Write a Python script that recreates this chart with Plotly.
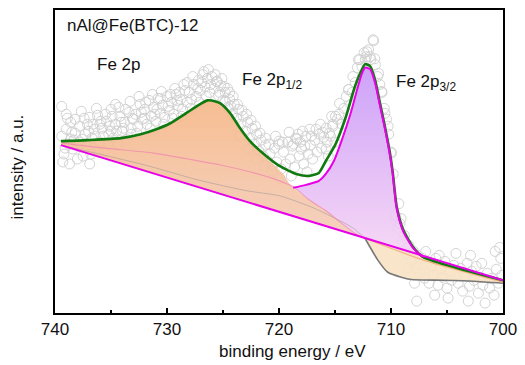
import plotly.graph_objects as go

# ---------------- data ----------------
# measured XPS points (binding energy / eV, intensity / a.u.)
data_ev = [
    739.4,739.2,739.0,738.8,738.6,738.4,738.2,738.0,737.8,737.6,737.4,737.2,737.0,736.8,736.6,736.4,736.2,736.0,
    735.8,735.6,735.4,735.2,735.0,734.8,734.6,734.4,734.2,734.0,733.8,733.6,733.4,733.2,733.0,
    739.4,739.3,739.1,738.9,738.7,738.5,738.3,737.9,737.65,737.5,737.1,736.9,736.7,736.3,736.1,735.9,735.7,735.3,
    735.1,734.9,734.5,734.3,733.9,733.3,733.1,
    739.0,738.6,738.2,737.8,737.3,736.9,736.5,736.0,735.5,735.0,734.6,734.1,733.7,733.2,
    732.8,732.6,732.4,732.2,732.0,731.8,731.6,731.4,731.2,731.0,730.8,730.6,730.4,730.2,730.0,729.8,729.6,729.4,
    729.2,729.0,728.8,728.6,728.4,
    732.7,732.3,731.9,731.5,731.1,730.6,730.3,729.9,729.5,729.1,728.7,728.5,
    732.5,732.0,731.3,730.9,730.5,729.7,729.3,728.9,728.2,727.7,727.1,726.9,726.3,725.7,725.1,724.8,724.4,
    724.1,723.7,723.3,722.9,722.5,722.1,721.7,721.2,
    728.2,728.0,727.8,727.6,727.4,727.2,727.0,726.8,726.6,726.4,726.2,726.0,725.8,725.6,725.4,725.2,725.0,724.8,
    724.6,724.4,724.2,
    727.9,727.25,726.7,726.5,726.1,725.5,725.3,724.9,724.6,724.3,
    724.0,723.8,723.6,723.4,723.2,723.0,722.8,722.6,722.4,722.2,722.0,721.8,721.6,721.4,721.2,721.0,
    722.8,722.0,721.3,720.6,723.5,
    720.8,720.6,720.4,720.2,720.0,719.8,719.6,719.4,719.2,719.0,718.8,718.6,718.4,718.2,718.0,717.8,717.6,717.4,
    717.2,717.0,716.8,716.6,716.4,716.2,716.0,
    719.9,718.9,717.5,718.5,720.0,718.3,717.25,717.9,716.3,
    720.9,720.3,719.7,719.1,718.7,718.1,717.7,717.1,716.7,716.1,715.7,715.3,
    715.8,715.6,715.4,715.2,715.0,714.8,714.6,714.4,714.2,714.0,713.8,713.6,713.4,713.2,713.0,712.8,712.6,712.4,
    712.2,712.0,711.8,711.6,711.4,711.2,711.0,710.8,710.6,710.4,710.2,710.0,709.8,
    715.8,715.5,715.2,714.95,714.65,713.77,713.47,712.9,712.3,712.15,711.87,711.55,711.45,711.1,710.84,710.55,
    710.26,709.96,
    709.6,709.4,709.2,709.0,708.8,708.6,708.4,708.2,708.0,707.8,707.6,707.4,707.2,707.0,706.8,706.6,706.4,706.2,
    706.0,705.8,705.6,705.4,705.2,705.0,704.8,704.6,704.4,704.2,704.0,703.8,703.6,703.4,703.2,703.0,702.8,702.6,
    702.4,702.2,702.0,701.8,701.6,701.4,701.2,701.0,700.8,700.6,700.4,700.2,700.1,
    707.7,700.3,704.9,706.1,703.1,708.5,707.9,706.9,705.7,702.9,701.9,700.7,709.3,709.1,
]
data_int = [
    178,160,185,170,192,165,181,155,188,175,196,168,183,160,190,178,199,172,
    186,163,193,180,205,176,190,170,198,183,192,175,202,186,195,
    208,152,166,196,150,182,174,168,203,158,190,150,176,206,162,193,178,170,
    188,198,183,207,186,213,196,
    200,175,195,172,180,197,185,190,200,183,210,192,205,180,
    200,188,210,195,205,190,214,198,207,193,216,201,209,197,218,204,212,200,
    220,209,215,205,224,
    181,202,212,186,200,216,190,208,196,214,198,230,
    218,196,220,205,223,220,226,222,232,238,212,232,245,240,236,213,222,
    218,210,204,200,194,188,181,176,
    212,222,215,230,218,234,224,240,228,236,222,238,226,233,219,229,214,222,
    207,215,200,
    206,226,243,218,230,233,222,228,226,208,
    210,196,205,190,198,183,192,176,186,170,180,163,174,158,169,153,
    165,155,148,143,178,
    160,148,166,152,170,145,162,150,172,155,168,147,175,158,165,150,178,160,
    169,155,174,162,180,166,177,
    135,138,142,176,173,180,185,183,190,
    170,178,172,182,170,172,168,178,185,182,172,198,
    165,158,178,188,172,195,211,190,206,218,225,210,238,232,247,255,248,262,
    258,265,255,275,250,238,230,222,206,195,180,162,140,
    186,181,190,198,200,225,222,255,255,263,258,274,256,241,223,201,
    188,161,
    98,85,90,72,78,60,68,52,62,45,58,40,55,35,50,30,47,38,
    55,28,44,36,52,25,41,33,48,60,30,45,22,38,50,27,42,33,
    47,20,36,28,10,40,25,35,18,44,30,55,38,
    12,66,15,18,12,45,30,62,58,58,50,62,110,95,
]

# fitted envelope (green)
envelope_ev = [739.47,737.10,734.11,732.35,730.95,729.71,728.31,727.08,726.37,725.67,725.23,724.35,723.47,
               722.59,721.36,719.96,718.46,717.32,716.44,715.82,714.95,714.07,713.19,712.60,712.31,711.87,
               711.43,710.99,710.55,710.11,709.85,709.49,708.90,708.03,707.15,700.00]
envelope_int = [173,174,176,180,185,191,201,210,214,213,211,201,186,
                173,160,148,140,138,141,153,170,196,229,245,250.5,248.5,
                235,211.5,188,162,142,107,83.5,66.5,56.5,33]

# Fe 2p1/2 component (+ satellite) upper edge (orange area)
p12_ev = [739.47,737.10,734.11,732.35,730.95,729.71,728.31,727.08,726.37,725.67,725.23,724.35,723.47,
          722.59,721.10,719.63,719.05,718.73,717.32,715.82,714.60,713.19,712.31]
p12_int = [173,174,176,180,185,191,201,210,214,213,211,201,186,
           173,156,140,130,126,114,103,92,80,75]

# Fe 2p3/2 component (magenta, purple area)
p32_ev = [718.73,717.60,716.44,715.82,715.10,714.36,713.63,713.00,712.60,712.31,711.87,711.43,710.99,
          710.55,710.11,709.85,709.49,708.90,708.03,707.15]
p32_int = [126,129,133,140,153,175,200,226,241,247,245.5,232,209,
           186,160,140.5,105.5,82,65.5,56]

# satellite line (pink, inside the orange area)
sat_ev = [739.38,735.60,731.21,728.13,725.23,722.24,719.96,718.73,717.32,715.82,714.60,713.19,712.31]
sat_int = [171,166,161,155,149,141,133,127,114,103,92,80,75]

# Shirley-type background (grey)
shirley_ev = [739.47,736.04,731.65,727.25,722.86,719.96,716.97,713.45,712.31,711.16,710.29,709.08,708.20,
              705.27,702.64,700.00]
shirley_int = [169,160,148,134,123,118,106,86,75,53,41,36,33.7,33,32,30]

# linear baseline (magenta straight line)
baseline_ev = [739.47, 712.31, 707.15, 700.00]
baseline_int = [169, 75, 57, 33]

# inner edge of the tan area
tan_edge_ev = [712.31, 707.03, 700.00]
tan_edge_int = [75, 53, 31]

x_ticks = [740, 730, 720, 710, 700]

# ---------------- figure ----------------
fig = go.Figure()

# measured points
fig.add_trace(go.Scatter(x=data_ev, y=data_int, mode="markers",
                         marker=dict(symbol="circle-open", size=10, color="rgb(206,206,206)",
                                     line=dict(width=0.9, color="rgb(206,206,206)")),
                         hoverinfo="skip"))

# orange area: baseline -> Fe 2p1/2 upper edge
fig.add_trace(go.Scatter(x=baseline_ev[0:2], y=baseline_int[0:2], mode="lines",
                         line=dict(width=0, color="rgba(0,0,0,0)"), hoverinfo="skip"))
fig.add_trace(go.Scatter(x=p12_ev, y=p12_int, mode="lines", fill="tonexty",
                         line=dict(width=0, color="rgba(0,0,0,0)", shape="spline", smoothing=0.6),
                         fillgradient=dict(type="vertical", start=70, stop=214,
                                           colorscale=[[0, "rgba(243,206,188,0.9)"],
                                                       [1, "rgba(246,182,134,0.9)"]]),
                         hoverinfo="skip"))

# purple area: satellite tail + baseline -> Fe 2p3/2
i0 = sat_ev.index(718.73)
fig.add_trace(go.Scatter(x=sat_ev[i0:] + baseline_ev[2:3], y=sat_int[i0:] + baseline_int[2:3], mode="lines",
                         line=dict(width=0, color="rgba(0,0,0,0)"), hoverinfo="skip"))
fig.add_trace(go.Scatter(x=p32_ev, y=p32_int, mode="lines", fill="tonexty",
                         line=dict(width=0, color="rgba(0,0,0,0)", shape="spline", smoothing=0.6),
                         fillgradient=dict(type="vertical", start=60, stop=248,
                                           colorscale=[[0, "rgba(246,212,244,0.9)"],
                                                       [1, "rgba(200,152,248,0.9)"]]),
                         hoverinfo="skip"))

# tan area: baseline -> Shirley (right part)
j0 = shirley_ev.index(712.31)
fig.add_trace(go.Scatter(x=baseline_ev[1:], y=baseline_int[1:], mode="lines",
                         line=dict(width=0, color="rgba(0,0,0,0)"), hoverinfo="skip"))
fig.add_trace(go.Scatter(x=shirley_ev[j0:], y=shirley_int[j0:], mode="lines", fill="tonexty",
                         fillcolor="rgba(248,226,196,0.9)",
                         line=dict(width=0, color="rgba(0,0,0,0)", shape="spline", smoothing=0.6),
                         hoverinfo="skip"))

# lines
fig.add_trace(go.Scatter(x=shirley_ev[:j0 + 1], y=shirley_int[:j0 + 1], mode="lines",
                         line=dict(width=1, color="rgba(160,150,150,0.55)", shape="spline", smoothing=0.6),
                         hoverinfo="skip"))
fig.add_trace(go.Scatter(x=sat_ev, y=sat_int, mode="lines",
                         line=dict(width=1.2, color="rgba(240,140,175,0.8)", shape="spline", smoothing=0.6),
                         hoverinfo="skip"))
fig.add_trace(go.Scatter(x=shirley_ev[j0:], y=shirley_int[j0:], mode="lines",
                         line=dict(width=1.6, color="rgb(120,120,120)", shape="spline", smoothing=0.6),
                         hoverinfo="skip"))
fig.add_trace(go.Scatter(x=tan_edge_ev, y=tan_edge_int, mode="lines",
                         line=dict(width=1.2, color="rgba(244,170,120,0.9)", shape="spline", smoothing=0.6),
                         hoverinfo="skip"))
fig.add_trace(go.Scatter(x=envelope_ev, y=envelope_int, mode="lines",
                         line=dict(width=2.6, color="rgb(16,122,16)", shape="spline", smoothing=0.6),
                         hoverinfo="skip"))
fig.add_trace(go.Scatter(x=p32_ev, y=p32_int, mode="lines",
                         line=dict(width=2, color="rgb(232,0,232)", shape="spline", smoothing=0.6),
                         hoverinfo="skip"))
fig.add_trace(go.Scatter(x=baseline_ev, y=baseline_int, mode="lines",
                         line=dict(width=2, color="rgb(232,0,232)"), hoverinfo="skip"))

font_family = "Liberation Sans, Arial, sans-serif"
fig.update_layout(
    width=525, height=365,
    margin=dict(l=55, r=15, t=8, b=52),
    plot_bgcolor="white", paper_bgcolor="white",
    showlegend=False,
    font=dict(family=font_family, size=17, color="#111111"),
    xaxis=dict(range=[740, 700], tickvals=x_ticks, ticktext=[str(v) for v in x_ticks],
               showline=True, linecolor="black", linewidth=2, mirror=True,
               ticks="inside", ticklen=5, tickwidth=2, tickcolor="black",
               minor=dict(ticks="inside", ticklen=3, tickwidth=2, tickcolor="black", dtick=5, tick0=700),
               showgrid=False, zeroline=False, tickfont=dict(size=17, color="#111111")),
    yaxis=dict(range=[0, 305], showline=True, linecolor="black", linewidth=2, mirror=True,
               ticks="", showticklabels=False, showgrid=False, zeroline=False),
    annotations=[
        dict(text="binding energy / eV", xref="paper", yref="paper", x=0.53, y=-0.128,
             xanchor="center", yanchor="middle", showarrow=False, font=dict(size=17)),
        dict(text="intensity / a.u.", xref="paper", yref="paper", x=-0.0835, y=0.482,
             xanchor="center", yanchor="middle", textangle=-90, showarrow=False, font=dict(size=17)),
        dict(text="nAl@Fe(BTC)-12", xref="paper", yref="paper", x=0.022, y=0.9475,
             xanchor="left", yanchor="middle", showarrow=False, font=dict(size=17)),
        dict(text="Fe 2p", xref="paper", yref="paper", x=0.090, y=0.8197,
             xanchor="left", yanchor="middle", showarrow=False, font=dict(size=17)),
        dict(text="Fe 2p<sub>1/2</sub>", xref="paper", yref="paper", x=0.413, y=0.765,
             xanchor="left", yanchor="middle", showarrow=False, font=dict(size=17)),
        dict(text="Fe 2p<sub>3/2</sub>", xref="paper", yref="paper", x=0.756, y=0.760,
             xanchor="left", yanchor="middle", showarrow=False, font=dict(size=17)),
    ],
)

fig.write_html("out.html", config={"displayModeBar": False},
               post_script="document.body.style.margin='0px';")
